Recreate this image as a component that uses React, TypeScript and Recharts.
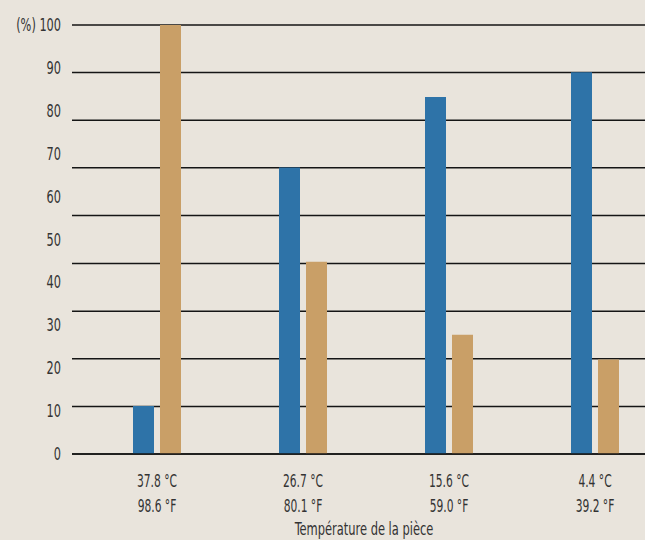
import { BarChart, Bar, XAxis, YAxis, CartesianGrid } from 'recharts';

const celsius = ['37.8 °C', '26.7 °C', '15.6 °C', '4.4 °C'];
const fahrenheit = ['98.6 °F', '80.1 °F', '59.0 °F', '39.2 °F'];
const blueValues = [11.2, 66.8, 83.2, 89];
const tanValues = [100, 44.8, 27.8, 22];
const yTicks = [0, 10, 20, 30, 40, 50, 60, 70, 80, 90, 100];
// the source draws 10 rules, not 11, so they don't sit on the labels
const gridValues = [0, 11.1, 22.2, 33.3, 44.4, 55.6, 66.7, 77.8, 88.9, 100];

const data = celsius.map((c, i) => ({
  name: c,
  f: fahrenheit[i],
  blue: blueValues[i],
  tan: tanValues[i],
}));

const FONT = "'DejaVu Sans Condensed', 'DejaVu Sans', sans-serif";
const TEXT = '#333';

// no condensed font like the original, so squeeze the text horizontally
const TempTick = ({ x, y, payload }: any) => {
  const i = payload.index;
  return (
    <g transform={`translate(${x},${y}) scale(0.7,1)`}>
      <text x={0} y={0} textAnchor="middle" fill={TEXT} fontSize={17} fontFamily={FONT}>
        <tspan x={0} dy={31}>{celsius[i]}</tspan>
        <tspan x={0} dy={25}>{fahrenheit[i]}</tspan>
      </text>
    </g>
  );
};

const PercentTick = ({ x, y, payload }: any) => {
  const v = payload.value;
  return (
    <g transform={`translate(${x},${y}) scale(0.7,1)`}>
      <text x={0} y={0} dy={6} textAnchor="end" fill={TEXT} fontSize={18} fontFamily={FONT}>
        {v === 100 ? '(%) 100' : String(v)}
      </text>
    </g>
  );
};

const AxisTitle = ({ viewBox }: any) => {
  const cx = viewBox.x + viewBox.width / 2 - 12;
  return (
    <g transform={`translate(${cx},535) scale(0.75,1)`}>
      <text x={0} y={0} textAnchor="middle" fill={TEXT} fontSize={17} fontFamily={FONT}>
        Température de la pièce
      </text>
    </g>
  );
};

export default function App() {
  return (
    <div
      style={{
        position: 'absolute',
        left: 0,
        top: 0,
        width: 645,
        height: 540,
        overflow: 'hidden',
        background: '#e9e4dc',
      }}
    >
      <BarChart
        width={680}
        height={540}
        data={data}
        margin={{ top: 25, right: 0, left: 0, bottom: 0 }}
        barSize={21}
        barGap={6}
      >
        <CartesianGrid
          vertical={false}
          horizontalValues={gridValues}
          stroke="#151515"
          strokeWidth={1.5}
        />
        <XAxis
          dataKey="name"
          height={86}
          padding={{ left: 12, right: 12 }}
          axisLine={{ stroke: '#151515', strokeWidth: 1.5 }}
          tickLine={false}
          tickSize={0}
          tick={<TempTick />}
          interval={0}
          label={<AxisTitle />}
        />
        <YAxis
          width={72}
          domain={[0, 100]}
          ticks={yTicks}
          interval={0}
          axisLine={false}
          tickLine={false}
          tickSize={0}
          tickMargin={11}
          tick={<PercentTick />}
        />
        <Bar dataKey="blue" fill="#2e73a8" isAnimationActive={false} />
        <Bar dataKey="tan" fill="#c99f67" isAnimationActive={false} />
      </BarChart>
    </div>
  );
}
